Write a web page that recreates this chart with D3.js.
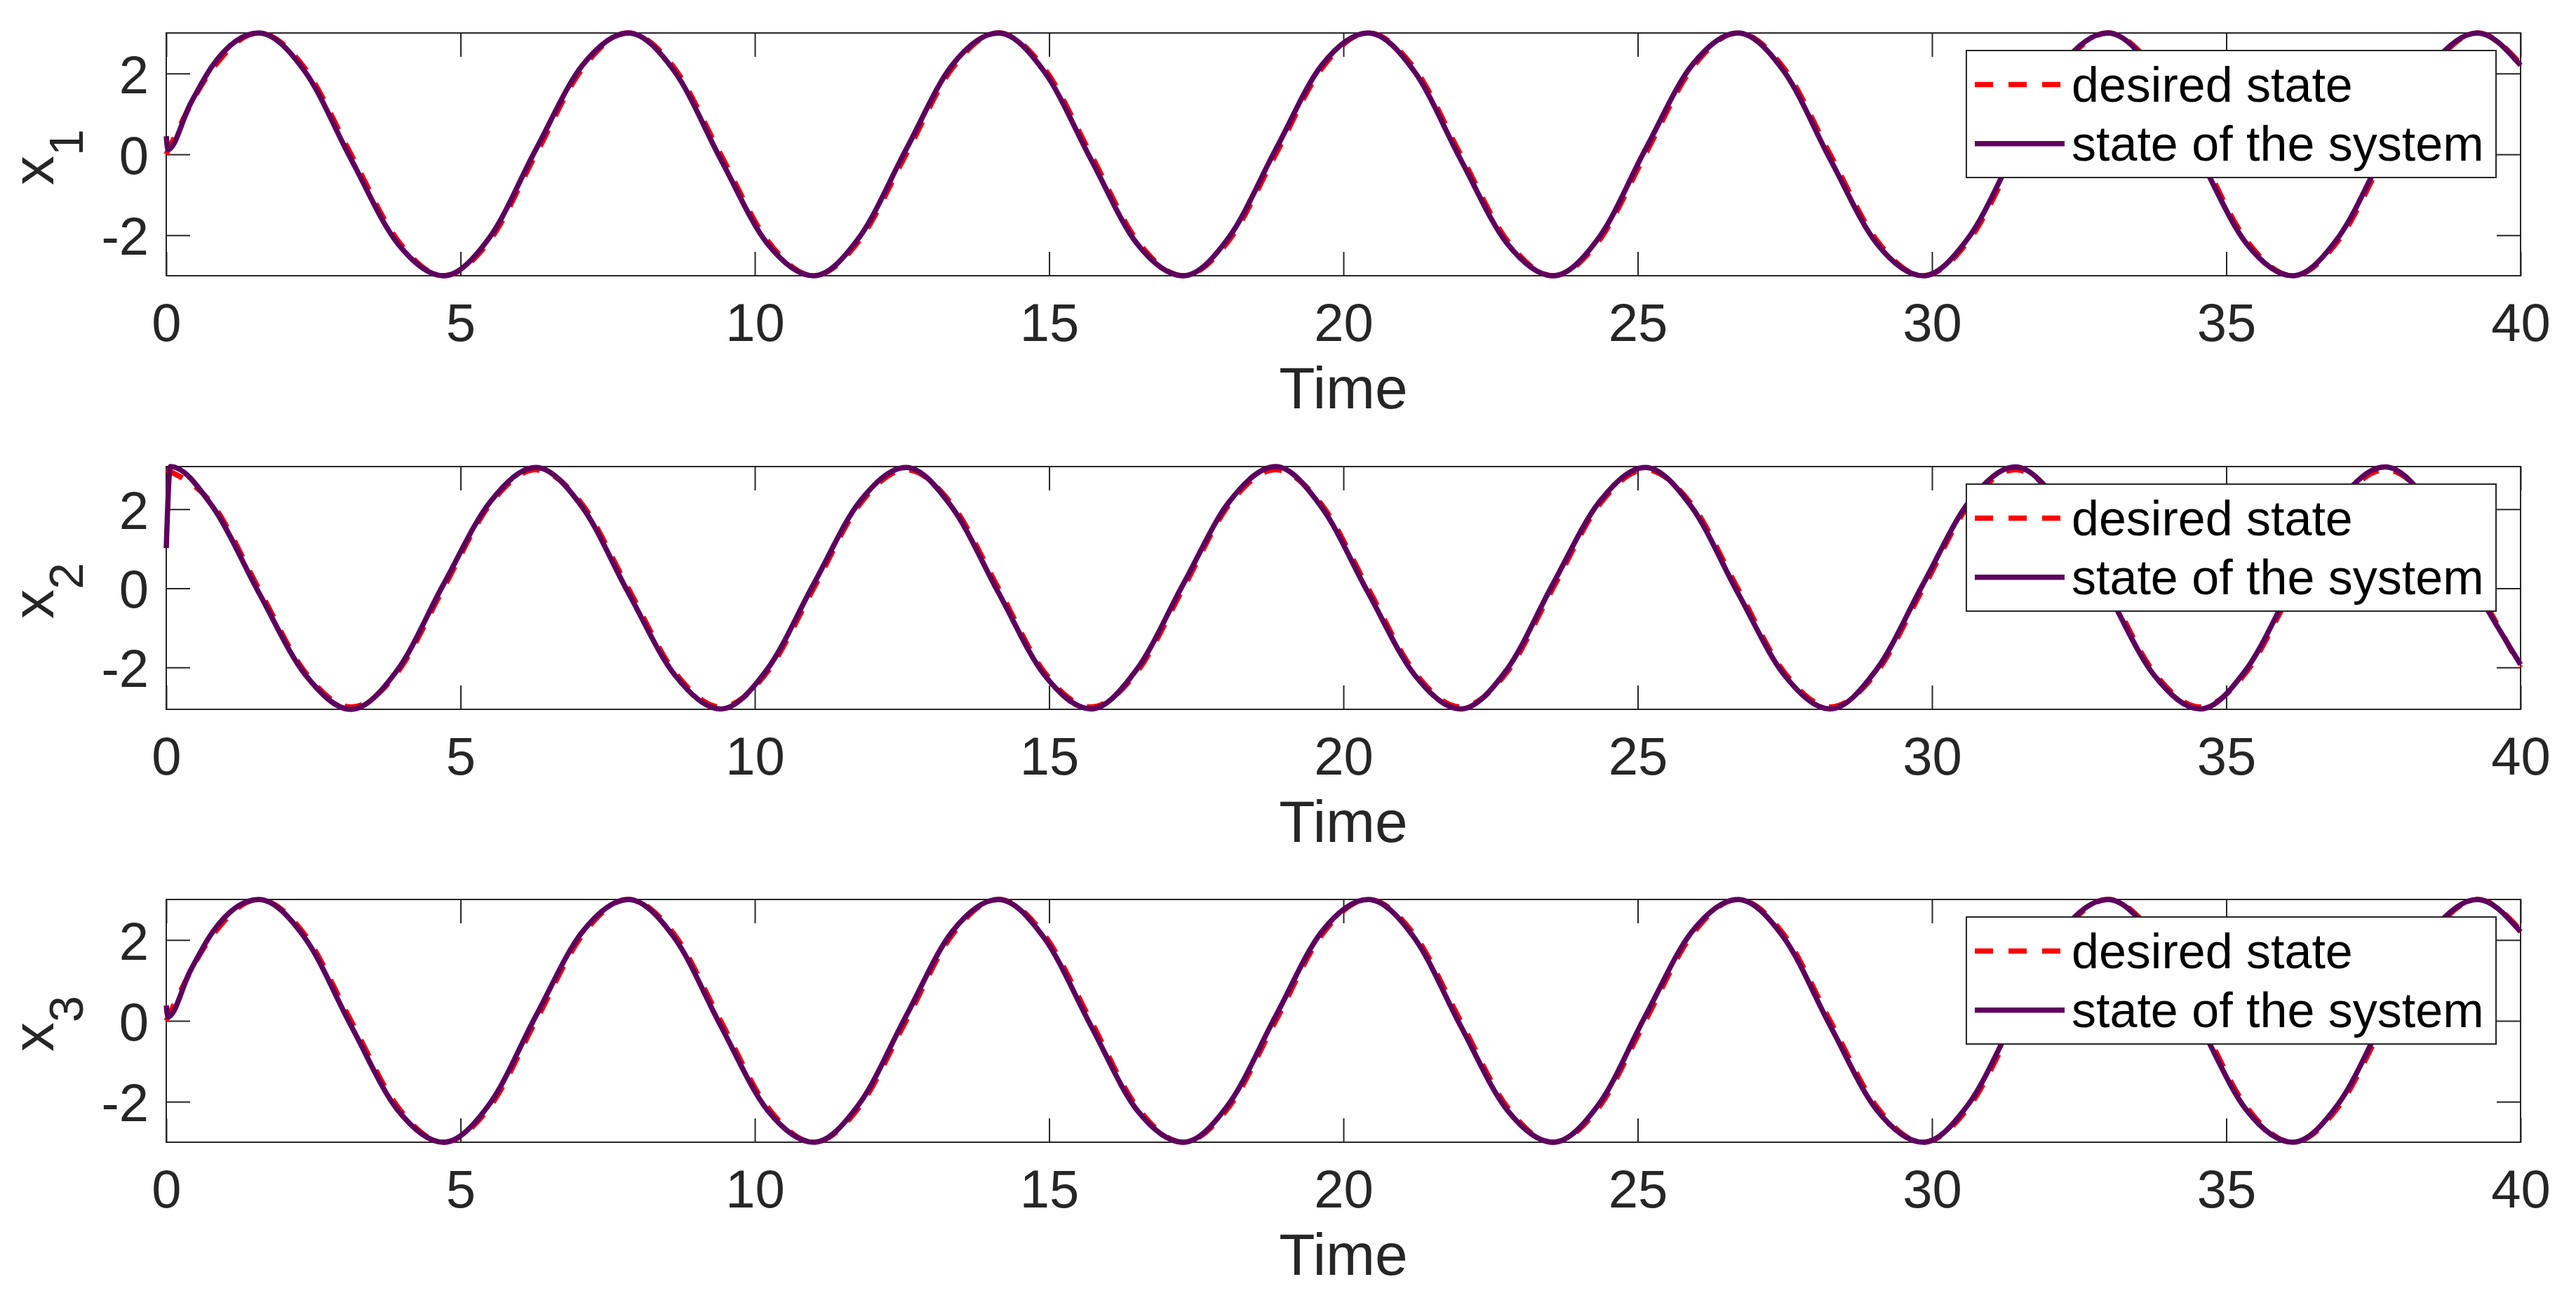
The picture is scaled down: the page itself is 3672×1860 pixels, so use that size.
<!DOCTYPE html>
<html>
<head>
<meta charset="utf-8">
<script src="https://cdn.jsdelivr.net/npm/d3@7"></script>
<style>
  body { margin: 0; background: #fff; }
  text { font-family: "Liberation Sans", Arial, sans-serif; }
</style>
</head>
<body>
<div id="chart"></div>
<script>
// sample times (zeros, peaks and the points between) + end
const time = [0, 0.79, 1.57, 2.36, 3.14, 3.93, 4.71, 5.5, 6.28, 7.07, 7.85, 8.64, 9.42,
  10.21, 11, 11.78, 12.57, 13.35, 14.14, 14.92, 15.71, 16.49, 17.28, 18.06, 18.85,
  19.63, 20.42, 21.21, 21.99, 22.78, 23.56, 24.35, 25.13, 25.92, 26.7, 27.49, 28.27,
  29.06, 29.85, 30.63, 31.42, 32.2, 32.99, 33.77, 34.56, 35.34, 36.13, 36.91, 37.7,
  38.49, 39.27, 40]

const x1Desired = [0, 2.12, 3, 2.12, 0, -2.12, -3, -2.12,
  0, 2.12, 3, 2.12, 0, -2.12, -3, -2.12,
  0, 2.12, 3, 2.12, 0, -2.12, -3, -2.12,
  0, 2.12, 3, 2.12, 0, -2.12, -3, -2.12,
  0, 2.12, 3, 2.12, 0, -2.12, -3, -2.12,
  0, 2.12, 3, 2.12, 0, -2.12, -3, -2.12,
  0, 2.12, 3, 2.24]

const x2Desired = [3, 2.12, 0, -2.12, -3, -2.12, 0, 2.12,
  3, 2.12, 0, -2.12, -3, -2.12, 0, 2.12,
  3, 2.12, 0, -2.12, -3, -2.12, 0, 2.12,
  3, 2.12, 0, -2.12, -3, -2.12, 0, 2.12,
  3, 2.12, 0, -2.12, -3, -2.12, 0, 2.12,
  3, 2.12, 0, -2.12, -3, -2.12, 0, 2.12,
  3, 2.12, 0, -2.0]

const x3Desired = [0, 2.12, 3, 2.12, 0, -2.12, -3, -2.12,
  0, 2.12, 3, 2.12, 0, -2.12, -3, -2.12,
  0, 2.12, 3, 2.12, 0, -2.12, -3, -2.12,
  0, 2.12, 3, 2.12, 0, -2.12, -3, -2.12,
  0, 2.12, 3, 2.12, 0, -2.12, -3, -2.12,
  0, 2.12, 3, 2.12, 0, -2.12, -3, -2.12,
  0, 2.12, 3, 2.24]

// system response: short start-up transient, then values at time[1..]
// (the system runs a hair ahead of the desired state)
const x1StartTime = [0, 0.03, 0.4]
const x1StartValue = [0.45, 0.12, 1.22]
const x1System = [2.20, 3.00, 2.04, -0.12, -2.20, -3.00, -2.04, 0.12,
  2.20, 3.00, 2.04, -0.12, -2.20, -3.00, -2.04, 0.12,
  2.20, 3.00, 2.04, -0.12, -2.20, -3.00, -2.04, 0.12,
  2.20, 3.00, 2.04, -0.12, -2.20, -3.00, -2.04, 0.12,
  2.20, 3.00, 2.04, -0.12, -2.20, -3.00, -2.04, 0.12,
  2.20, 3.00, 2.04, -0.12, -2.20, -3.00, -2.04, 0.12,
  2.20, 3.00, 2.20]

const x2StartTime = [0, 0.07]
const x2StartValue = [1.02, 3.08]
const x2System = [2.06, -0.10, -2.18, -3.06, -2.06, 0.10, 2.18, 3.06,
  2.05, -0.11, -2.19, -3.05, -2.05, 0.11, 2.19, 3.06,
  2.05, -0.11, -2.19, -3.05, -2.05, 0.11, 2.19, 3.08,
  2.05, -0.11, -2.19, -3.05, -2.05, 0.11, 2.19, 3.06,
  2.05, -0.11, -2.19, -3.05, -2.05, 0.11, 2.19, 3.07,
  2.05, -0.11, -2.19, -3.05, -2.05, 0.11, 2.19, 3.07,
  2.05, -0.11, -1.93]

const x3StartTime = [0, 0.03, 0.4]
const x3StartValue = [0.38, 0.10, 1.21]
const x3System = [2.20, 3.00, 2.04, -0.12, -2.20, -3.00, -2.04, 0.12,
  2.20, 3.00, 2.04, -0.12, -2.20, -3.00, -2.04, 0.12,
  2.20, 3.00, 2.04, -0.12, -2.20, -3.00, -2.04, 0.12,
  2.20, 3.00, 2.04, -0.12, -2.20, -3.00, -2.04, 0.12,
  2.20, 3.00, 2.04, -0.12, -2.20, -3.00, -2.04, 0.12,
  2.20, 3.00, 2.04, -0.12, -2.20, -3.00, -2.04, 0.12,
  2.20, 3.00, 2.20]

const xTicks = [0, 5, 10, 15, 20, 25, 30, 35, 40]
const yTicks = [-2, 0, 2]
const legendLabels = ["desired state", "state of the system"]

const svgWidth = 3672
const svgHeight = 1860
const left = 237
const right = 3593
const panelTops = [47, 665, 1282]
const panelHeight = 346
const tickLen = 34
const axisColor = "#262626"
const red = "#ff0000"
const purple = "#5e005e"
const lineWidth = 7.5

let svg = d3.select("#chart")
  .append("svg")
  .attr("width", svgWidth)
  .attr("height", svgHeight)

let x = d3.scaleLinear().domain([0, 40]).range([left, right])

let panels = [
  { sub: "1", desired: x1Desired, sysTime: x1StartTime.concat(time.slice(1)), sysValue: x1StartValue.concat(x1System) },
  { sub: "2", desired: x2Desired, sysTime: x2StartTime.concat(time.slice(1)), sysValue: x2StartValue.concat(x2System) },
  { sub: "3", desired: x3Desired, sysTime: x3StartTime.concat(time.slice(1)), sysValue: x3StartValue.concat(x3System) }
]

function styleAxis(g) {
  g.attr("font-family", null).attr("font-size", null)
  g.select(".domain").remove()
  g.selectAll(".tick line").attr("stroke", axisColor).attr("stroke-width", 2)
  g.selectAll(".tick text").attr("fill", axisColor).attr("font-size", 76)
}

panels.forEach((p, i) => {
  let g = svg.append("g").attr("transform", `translate(0, ${panelTops[i]})`)

  let y = d3.scaleLinear()
    .domain(d3.extent(p.desired.concat(p.sysValue)))
    .range([panelHeight, 0])

  // axes with inward ticks on all four sides
  g.append("g")
    .attr("transform", `translate(0, ${panelHeight})`)
    .call(d3.axisBottom(x).tickValues(xTicks).tickSizeInner(-tickLen).tickSizeOuter(0))
    .call(styleAxis)
    .selectAll(".tick text").attr("y", 93).attr("dy", 0)

  g.append("g")
    .call(d3.axisTop(x).tickValues(xTicks).tickSizeInner(-tickLen).tickSizeOuter(0).tickFormat(() => ""))
    .call(styleAxis)

  g.append("g")
    .attr("transform", `translate(${left}, 0)`)
    .call(d3.axisLeft(y).tickValues(yTicks).tickSizeInner(-tickLen).tickSizeOuter(0)
      .tickPadding(25).tickFormat(d => String(d)))
    .call(styleAxis)
    .selectAll(".tick text").attr("dy", "0.36em")

  g.append("g")
    .attr("transform", `translate(${right}, 0)`)
    .call(d3.axisRight(y).tickValues(yTicks).tickSizeInner(-tickLen).tickSizeOuter(0).tickFormat(() => ""))
    .call(styleAxis)

  g.append("rect")
    .attr("x", left)
    .attr("y", 0)
    .attr("width", right - left)
    .attr("height", panelHeight)
    .attr("fill", "none")
    .attr("stroke", axisColor)
    .attr("stroke-width", 2)

  let line = d3.line()
    .x(d => x(d[0]))
    .y(d => y(d[1]))
    .curve(d3.curveMonotoneX)

  g.append("path")
    .datum(time.map((t, k) => [t, p.desired[k]]))
    .attr("d", line)
    .attr("fill", "none")
    .attr("stroke", red)
    .attr("stroke-width", lineWidth)
    .attr("stroke-dasharray", "26,22")

  g.append("path")
    .datum(p.sysTime.map((t, k) => [t, p.sysValue[k]]))
    .attr("d", line)
    .attr("fill", "none")
    .attr("stroke", purple)
    .attr("stroke-width", lineWidth)
    .attr("stroke-linejoin", "round")

  // axis labels
  g.append("text")
    .attr("x", (left + right) / 2)
    .attr("y", panelHeight + 189)
    .attr("text-anchor", "middle")
    .attr("font-size", 84)
    .attr("fill", axisColor)
    .text("Time")

  let ylab = g.append("text")
    .attr("transform", `translate(76, ${panelHeight / 2 + 4}) rotate(-90)`)
    .attr("text-anchor", "middle")
    .attr("font-size", 84)
    .attr("fill", axisColor)
  ylab.append("tspan").text("x")
  ylab.append("tspan").attr("dy", 42).attr("font-size", 68).text(p.sub)

  // legend
  let legend = g.append("g").attr("transform", `translate(2803, 25)`)
  legend.append("rect")
    .attr("width", 755)
    .attr("height", 181)
    .attr("fill", "#fff")
    .attr("stroke", axisColor)
    .attr("stroke-width", 2)

  legendLabels.forEach((label, j) => {
    let cy = j === 0 ? 48.5 : 132.7
    legend.append("line")
      .attr("x1", 12)
      .attr("x2", 140)
      .attr("y1", cy)
      .attr("y2", cy)
      .attr("stroke", j === 0 ? red : purple)
      .attr("stroke-width", lineWidth)
      .attr("stroke-dasharray", j === 0 ? "26,22" : null)
    legend.append("text")
      .attr("x", 150)
      .attr("y", cy + 24)
      .attr("font-size", 70)
      .attr("fill", "#000")
      .text(label)
  })
})
</script>
</body>
</html>
